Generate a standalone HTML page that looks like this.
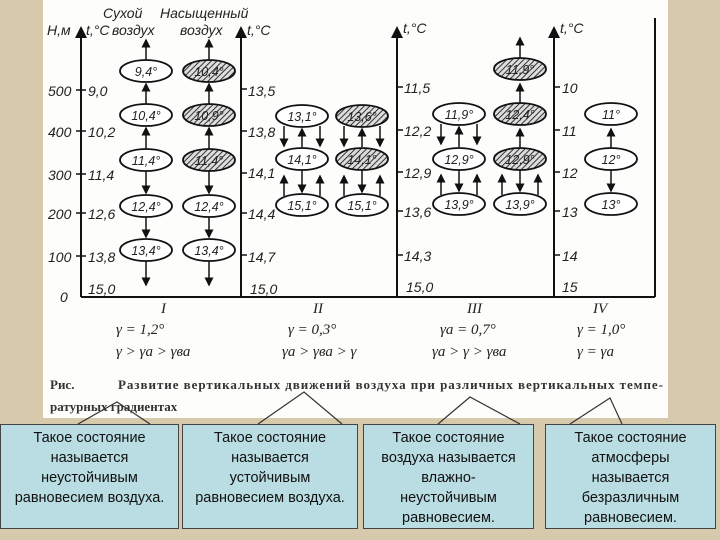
<!DOCTYPE html>
<html><head><meta charset="utf-8"><style>
body{margin:0;width:720px;height:540px;overflow:hidden;background:#d6c9ac;font-family:"Liberation Sans",sans-serif}
.box{position:absolute;top:424px;height:105px;background:#b9dde2;border:1px solid #444;box-sizing:border-box;text-align:center;font-size:14.5px;line-height:20px;color:#111;padding-top:3px;white-space:nowrap}
</style></head><body>
<svg width="720" height="540" style="position:absolute;left:0;top:0">
<defs>
<pattern id="h" width="4" height="4" patternUnits="userSpaceOnUse" patternTransform="rotate(45)"><rect width="4" height="4" fill="#ddd"/><line x1="0" y1="0" x2="0" y2="4" stroke="#333" stroke-width="2"/></pattern>
<marker id="a" markerWidth="6" markerHeight="6" refX="5" refY="3" orient="auto"><path d="M0,0L6,3L0,6z" fill="#111"/></marker>
</defs>
<rect x="43" y="0" width="625" height="418" fill="#fdfdfb"/>
<g stroke="#111" stroke-width="2" fill="none">
<line x1="81" y1="297" x2="81" y2="28" marker-end="url(#a)"/>
<line x1="241" y1="297" x2="241" y2="28" marker-end="url(#a)"/>
<line x1="397" y1="297" x2="397" y2="28" marker-end="url(#a)"/>
<line x1="554" y1="297" x2="554" y2="28" marker-end="url(#a)"/>
<line x1="655" y1="297" x2="655" y2="18"/>
<line x1="81" y1="297" x2="655" y2="297"/>
</g>
<g stroke="#111" stroke-width="1.5">
<line x1="76" y1="90" x2="86" y2="90"/><line x1="76" y1="131" x2="86" y2="131"/><line x1="76" y1="174" x2="86" y2="174"/><line x1="76" y1="213" x2="86" y2="213"/><line x1="76" y1="256" x2="86" y2="256"/>
<line x1="241" y1="89" x2="247" y2="89"/><line x1="241" y1="131" x2="247" y2="131"/><line x1="241" y1="173" x2="247" y2="173"/><line x1="241" y1="213" x2="247" y2="213"/><line x1="241" y1="255" x2="247" y2="255"/>
<line x1="397" y1="87" x2="403" y2="87"/><line x1="397" y1="130" x2="403" y2="130"/><line x1="397" y1="172" x2="403" y2="172"/><line x1="397" y1="211" x2="403" y2="211"/><line x1="397" y1="255" x2="403" y2="255"/>
<line x1="554" y1="87" x2="560" y2="87"/><line x1="554" y1="130" x2="560" y2="130"/><line x1="554" y1="172" x2="560" y2="172"/><line x1="554" y1="211" x2="560" y2="211"/><line x1="554" y1="255" x2="560" y2="255"/>
</g>
<g font-family="Liberation Sans" font-style="italic" font-size="14" fill="#222">
<text x="103" y="18">Сухой</text><text x="160" y="18">Насыщенный</text>
<text x="47" y="35">Н,м</text><text x="86" y="35">t,°C</text><text x="112" y="35">воздух</text><text x="180" y="35">воздух</text>
<text x="247" y="35">t,°C</text><text x="403" y="33">t,°C</text><text x="560" y="33">t,°C</text>
<text x="48" y="96">500</text><text x="48" y="137">400</text><text x="48" y="180">300</text><text x="48" y="219">200</text><text x="48" y="262">100</text><text x="60" y="302">0</text>
<text x="88" y="96">9,0</text><text x="88" y="137">10,2</text><text x="88" y="180">11,4</text><text x="88" y="219">12,6</text><text x="88" y="262">13,8</text><text x="88" y="294">15,0</text>
<text x="248" y="96">13,5</text><text x="248" y="137">13,8</text><text x="248" y="178">14,1</text><text x="248" y="219">14,4</text><text x="248" y="262">14,7</text><text x="250" y="294">15,0</text>
<text x="404" y="93">11,5</text><text x="404" y="136">12,2</text><text x="404" y="178">12,9</text><text x="404" y="217">13,6</text><text x="404" y="261">14,3</text><text x="406" y="292">15,0</text>
<text x="562" y="93">10</text><text x="562" y="136">11</text><text x="562" y="178">12</text><text x="562" y="217">13</text><text x="562" y="261">14</text><text x="562" y="292">15</text>
</g>
<g stroke="#111" stroke-width="1.8">
<ellipse cx="146" cy="71" rx="26" ry="11" fill="#fff"/><ellipse cx="146" cy="115" rx="26" ry="11" fill="#fff"/><ellipse cx="146" cy="160" rx="26" ry="11" fill="#fff"/><ellipse cx="146" cy="206" rx="26" ry="11" fill="#fff"/><ellipse cx="146" cy="250" rx="26" ry="11" fill="#fff"/>
<ellipse cx="209" cy="71" rx="26" ry="11" fill="url(#h)"/><ellipse cx="209" cy="115" rx="26" ry="11" fill="url(#h)"/><ellipse cx="209" cy="160" rx="26" ry="11" fill="url(#h)"/><ellipse cx="209" cy="206" rx="26" ry="11" fill="#fff"/><ellipse cx="209" cy="250" rx="26" ry="11" fill="#fff"/>
<ellipse cx="302" cy="116" rx="26" ry="11" fill="#fff"/><ellipse cx="302" cy="159" rx="26" ry="11" fill="#fff"/><ellipse cx="302" cy="205" rx="26" ry="11" fill="#fff"/>
<ellipse cx="362" cy="116" rx="26" ry="11" fill="url(#h)"/><ellipse cx="362" cy="159" rx="26" ry="11" fill="url(#h)"/><ellipse cx="362" cy="205" rx="26" ry="11" fill="#fff"/>
<ellipse cx="459" cy="114" rx="26" ry="11" fill="#fff"/><ellipse cx="459" cy="159" rx="26" ry="11" fill="#fff"/><ellipse cx="459" cy="204" rx="26" ry="11" fill="#fff"/>
<ellipse cx="520" cy="69" rx="26" ry="11" fill="url(#h)"/><ellipse cx="520" cy="114" rx="26" ry="11" fill="url(#h)"/><ellipse cx="520" cy="159" rx="26" ry="11" fill="url(#h)"/><ellipse cx="520" cy="204" rx="26" ry="11" fill="#fff"/>
<ellipse cx="611" cy="114" rx="26" ry="11" fill="#fff"/><ellipse cx="611" cy="159" rx="26" ry="11" fill="#fff"/><ellipse cx="611" cy="204" rx="26" ry="11" fill="#fff"/>
</g>
<g stroke="#111" stroke-width="1.5" marker-end="url(#a)">
<line x1="146" y1="60" x2="146" y2="40"/><line x1="146" y1="104" x2="146" y2="84"/><line x1="146" y1="149" x2="146" y2="128"/><line x1="146" y1="171" x2="146" y2="193"/><line x1="146" y1="217" x2="146" y2="237"/><line x1="146" y1="261" x2="146" y2="285"/>
<line x1="209" y1="60" x2="209" y2="40"/><line x1="209" y1="104" x2="209" y2="84"/><line x1="209" y1="149" x2="209" y2="128"/><line x1="209" y1="171" x2="209" y2="193"/><line x1="209" y1="217" x2="209" y2="237"/><line x1="209" y1="261" x2="209" y2="285"/>
<line x1="284" y1="126" x2="284" y2="146"/><line x1="302" y1="147" x2="302" y2="129"/><line x1="320" y1="126" x2="320" y2="146"/>
<line x1="284" y1="196" x2="284" y2="176"/><line x1="302" y1="170" x2="302" y2="192"/><line x1="320" y1="196" x2="320" y2="176"/>
<line x1="344" y1="126" x2="344" y2="146"/><line x1="362" y1="147" x2="362" y2="129"/><line x1="380" y1="126" x2="380" y2="146"/>
<line x1="344" y1="196" x2="344" y2="176"/><line x1="362" y1="170" x2="362" y2="192"/><line x1="380" y1="196" x2="380" y2="176"/>
<line x1="441" y1="124" x2="441" y2="144"/><line x1="459" y1="147" x2="459" y2="127"/><line x1="477" y1="124" x2="477" y2="144"/>
<line x1="441" y1="195" x2="441" y2="175"/><line x1="459" y1="170" x2="459" y2="191"/><line x1="477" y1="195" x2="477" y2="175"/>
<line x1="520" y1="58" x2="520" y2="38"/><line x1="520" y1="103" x2="520" y2="84"/><line x1="520" y1="148" x2="520" y2="129"/>
<line x1="502" y1="195" x2="502" y2="175"/><line x1="520" y1="170" x2="520" y2="191"/><line x1="538" y1="195" x2="538" y2="175"/>
<line x1="611" y1="148" x2="611" y2="129"/><line x1="611" y1="170" x2="611" y2="191"/>
</g>
<g font-family="Liberation Sans" font-style="italic" font-size="12.5" fill="#222" text-anchor="middle">
<text x="146" y="76">9,4°</text><text x="146" y="120">10,4°</text><text x="146" y="165">11,4°</text><text x="146" y="211">12,4°</text><text x="146" y="255">13,4°</text>
<text x="209" y="76">10,4°</text><text x="209" y="120">10,9°</text><text x="209" y="165">11,4°</text><text x="209" y="211">12,4°</text><text x="209" y="255">13,4°</text>
<text x="302" y="121">13,1°</text><text x="302" y="164">14,1°</text><text x="302" y="210">15,1°</text>
<text x="362" y="121">13,6°</text><text x="362" y="164">14,1°</text><text x="362" y="210">15,1°</text>
<text x="459" y="119">11,9°</text><text x="459" y="164">12,9°</text><text x="459" y="209">13,9°</text>
<text x="520" y="74">11,9°</text><text x="520" y="119">12,4°</text><text x="520" y="164">12,9°</text><text x="520" y="209">13,9°</text>
<text x="611" y="119">11°</text><text x="611" y="164">12°</text><text x="611" y="209">13°</text>
</g>
<g font-family="Liberation Serif" font-style="italic" font-size="15" fill="#222">
<text x="161" y="313">I</text><text x="313" y="313">II</text><text x="467" y="313">III</text><text x="593" y="313">IV</text>
<text x="116" y="334">γ = 1,2°</text><text x="116" y="356">γ &gt; γa &gt; γва</text>
<text x="288" y="334">γ = 0,3°</text><text x="282" y="356">γa &gt; γва &gt; γ</text>
<text x="440" y="334">γa = 0,7°</text><text x="432" y="356">γa &gt; γ &gt; γва</text>
<text x="577" y="334">γ = 1,0°</text><text x="577" y="356">γ = γa</text>
</g>
<g font-family="Liberation Serif" font-weight="bold" font-size="13" fill="#333">
<text x="50" y="389">Рис.</text><text x="118" y="389" textLength="545">Развитие вертикальных движений воздуха при различных вертикальных темпе-</text>
<text x="50" y="411">ратурных градиентах</text>
</g>
<g fill="none" stroke="#333" stroke-width="1.2">
<path d="M78,424 L117,402 L150,424"/>
<path d="M258,424 L304,392 L342,424"/>
<path d="M438,424 L470,397 L520,424"/>
<path d="M570,424 L610,398 L622,424"/>
</g>
</svg>
<div class="box" style="left:0;width:179px">Такое состояние<br>называется<br>неустойчивым<br>равновесием воздуха.</div>
<div class="box" style="left:182px;width:176px">Такое состояние<br>называется<br>устойчивым<br>равновесием воздуха.</div>
<div class="box" style="left:363px;width:171px">Такое состояние<br>воздуха называется<br>влажно-<br>неустойчивым<br>равновесием.</div>
<div class="box" style="left:545px;width:171px">Такое состояние<br>атмосферы<br>называется<br>безразличным<br>равновесием.</div>
</body></html>
